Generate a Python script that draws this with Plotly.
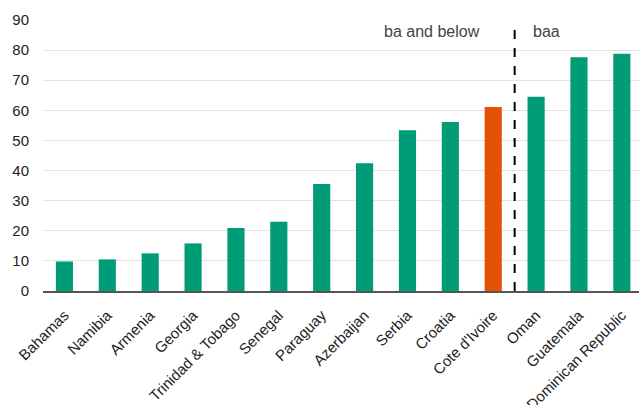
import plotly.graph_objects as go

countries = ["Bahamas", "Namibia", "Armenia", "Georgia", "Trinidad & Tobago", "Senegal",
             "Paraguay", "Azerbaijan", "Serbia", "Croatia", "Cote d'Ivoire", "Oman",
             "Guatemala", "Dominican Republic"]
values = [9.8, 10.5, 12.5, 15.8, 20.9, 23.0, 35.5, 42.4, 53.4, 56.1, 61.1, 64.5, 77.6, 78.8]
highlight = "Cote d'Ivoire"
y_ticks = [0, 10, 20, 30, 40, 50, 60, 70, 80, 90]
group_labels = ["ba and below", "baa"]

green = "#009B77"
orange = "#E35205"
colors = [orange if c == highlight else green for c in countries]

fig = go.Figure(go.Bar(x=list(range(len(countries))), y=values, marker_color=colors,
                       marker_line_width=0, width=0.4))

split = countries.index(highlight) + 0.5
fig.add_shape(type="line", xref="x", yref="paper", x0=split, x1=split, y0=0, y1=0.99,
              line=dict(color="black", width=2, dash="dash"))
fig.add_annotation(x=split - 1.93, y=86.3, text=group_labels[0], showarrow=False,
                   font=dict(size=16, color="#444444"))
fig.add_annotation(x=split + 0.75, y=86.3, text=group_labels[1], showarrow=False,
                   font=dict(size=16, color="#444444"))

fig.update_layout(
    width=639, height=405,
    margin=dict(l=43, r=0, t=20, b=114, autoexpand=False),
    plot_bgcolor="white", paper_bgcolor="white",
    font=dict(family="Liberation Sans, Arial", size=15, color="#222222"),
    showlegend=False,
)
fig.update_xaxes(tickmode="array", tickvals=list(range(len(countries))), ticktext=countries,
                 tickangle=-45, range=[-0.5, 13.4], showline=True, linecolor="#555555",
                 linewidth=1.5, showgrid=False, ticks="", tickfont=dict(size=15),
                 automargin=False, ticklabelstandoff=8)
fig.update_yaxes(range=[0, 90], tickvals=y_ticks, showgrid=True, gridcolor="#e3e3e3",
                 gridwidth=1, zeroline=False, showline=False, ticks="",
                 tickfont=dict(size=15), ticklabelstandoff=13, automargin=False)

fig.write_html("out.html")
